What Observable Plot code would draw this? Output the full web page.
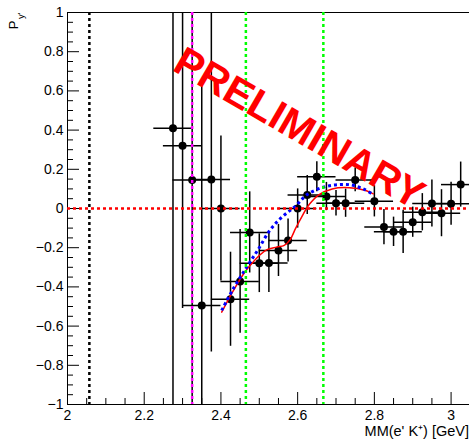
<!DOCTYPE html>
<html><head><meta charset="utf-8">
<script src="https://cdn.jsdelivr.net/npm/d3@7"></script>
<script src="https://cdn.jsdelivr.net/npm/@observablehq/plot@0.6"></script>
<style>
html,body{margin:0;padding:0;background:#fff;}
#chart{width:469px;height:439px;overflow:hidden;}
</style></head><body><div id="chart"></div>
<script>
// ---- data ----
const massBins = [2.275, 2.300, 2.325, 2.350, 2.375, 2.400, 2.425, 2.450, 2.475, 2.500, 2.525, 2.550, 2.575, 2.600, 2.625, 2.650, 2.675, 2.700, 2.725, 2.750, 2.800, 2.825, 2.850, 2.875, 2.900, 2.925, 2.950, 2.975, 3.000, 3.025];
const pyValues = [0.41, 0.32, 0.146, -0.495, 0.148, 0.0, -0.463, -0.372, -0.122, -0.279, -0.278, -0.214, -0.163, 0.0, 0.069, 0.162, 0.061, 0.027, 0.027, 0.146, 0.037, -0.095, -0.119, -0.119, -0.070, -0.019, 0.025, -0.024, 0.024, 0.122];
const pyErrors = [1.5, 0.83, 1.5, 1.13, 0.88, 0.37, 0.24, 0.265, 0.207, 0.15, 0.15, 0.133, 0.11, 0.10, 0.10, 0.077, 0.072, 0.065, 0.072, 0.06, 0.08, 0.09, 0.075, 0.11, 0.077, 0.095, 0.12, 0.12, 0.11, 0.115];
const massErrors = [0.05, 0.05, 0.05, 0.05, 0.05, 0.05, 0.05, 0.05, 0.05, 0.05, 0.05, 0.05, 0.05, 0.05, 0.05, 0.05, 0.05, 0.05, 0.05, 0.05, 0.05, 0.05, 0.05, 0.05, 0.05, 0.05, 0.05, 0.05, 0.05, 0.05];

const redCurveX = [2.402, 2.432, 2.462, 2.480, 2.500, 2.520, 2.545, 2.565, 2.580, 2.595, 2.610, 2.630, 2.655, 2.690, 2.735, 2.775, 2.797];
const redCurveY = [-0.529, -0.420, -0.325, -0.282, -0.240, -0.210, -0.197, -0.188, -0.160, -0.100, -0.045, 0.020, 0.070, 0.100, 0.106, 0.093, 0.075];
const blueCurveX = [2.402, 2.432, 2.467, 2.498, 2.528, 2.559, 2.593, 2.624, 2.667, 2.702, 2.737, 2.771, 2.797];
const blueCurveY = [-0.520, -0.410, -0.300, -0.206, -0.110, -0.044, 0.010, 0.070, 0.109, 0.121, 0.121, 0.100, 0.071];

const blackLineX = [2.057];
const magentaLineX = [2.325];
const greenLinesX = [2.465, 2.667];
const zeroLineY = [0];

const xMajorTicks = [2.0, 2.2, 2.4, 2.6, 2.8, 3.0];
const xMinorTicks = [2.05, 2.1, 2.15, 2.25, 2.3, 2.35, 2.45, 2.5, 2.55, 2.65, 2.7, 2.75, 2.85, 2.9, 2.95];
const yMajorTicks = [-1, -0.8, -0.6, -0.4, -0.2, 0, 0.2, 0.4, 0.6, 0.8, 1];
const yMinorTicks = [-0.95, -0.9, -0.85, -0.75, -0.7, -0.65, -0.55, -0.5, -0.45, -0.35, -0.3, -0.25, -0.15, -0.1, -0.05, 0.05, 0.1, 0.15, 0.25, 0.3, 0.35, 0.45, 0.5, 0.55, 0.65, 0.7, 0.75, 0.85, 0.9, 0.95];

const xTitle = ["MM(e' K\u207A) [GeV]"];
const yTitleMain = ["P"];
const yTitleSub = ["y'"];
const stampText = ["PRELIMINARY"];
const stampX = [2.604];
const stampY = [0.408];

// ---- build tables ----
const points = massBins.map((m, i) => ({m, p: pyValues[i], e: pyErrors[i], me: massErrors[i]}));
const redCurve = redCurveX.map((x, i) => ({x, y: redCurveY[i]}));
const blueCurve = blueCurveX.map((x, i) => ({x, y: blueCurveY[i]}));
const stamp = stampText.map((t, i) => ({t, x: stampX[i], y: stampY[i]}));
const fmt = d3.format("~g");
const font = "'Liberation Sans', Arial, Helvetica, sans-serif";

const chart = Plot.plot({
  width: 469,
  height: 439,
  marginLeft: 67,
  marginRight: 0,
  marginTop: 12,
  marginBottom: 35,
  style: {fontFamily: font, fontSize: "14px", background: "#fff", color: "#000"},
  x: {domain: [2, 3.048], clamp: true, axis: null},
  y: {domain: [-1, 1], clamp: true, axis: null},
  marks: [
    // frame lines
    Plot.ruleX([2], {stroke: "#000", strokeWidth: 1}),
    Plot.ruleY([1], {stroke: "#000", strokeWidth: 1}),
    Plot.ruleY([-1], {stroke: "#000", strokeWidth: 1}),
    // axes
    Plot.axisY(yMajorTicks, {anchor: "left", tickSize: -12, tickPadding: 16, tickFormat: fmt, fontSize: 14, label: null}),
    Plot.axisY(yMinorTicks, {anchor: "left", tickSize: -6, fill: "none", label: null}),
    Plot.axisX(xMajorTicks, {anchor: "bottom", tickSize: -12, tickPadding: 17.5, tickFormat: fmt, fontSize: 14, label: null}),
    Plot.axisX(xMinorTicks, {anchor: "bottom", tickSize: -6, fill: "none", label: null}),
    // error bars
    Plot.ruleX(points, {x: "m", y1: d => d.p - d.e, y2: d => d.p + d.e, stroke: "#000", strokeWidth: 1.5}),
    Plot.ruleY(points, {y: "p", x1: d => d.m - d.me, x2: d => d.m + d.me, stroke: "#000", strokeWidth: 1.5}),
    Plot.dot(points, {x: "m", y: "p", r: 4, fill: "#000", stroke: null}),
    // model curves
    Plot.line(redCurve, {x: "x", y: "y", stroke: "#ff0000", strokeWidth: 1.5, curve: "catmull-rom"}),
    Plot.line(blueCurve, {x: "x", y: "y", stroke: "#0000ff", strokeWidth: 3, strokeDasharray: "3,3", strokeLinecap: "butt", curve: "catmull-rom"}),
    // reference lines
    Plot.ruleX(blackLineX, {stroke: "#000", strokeWidth: 2.5, strokeDasharray: "3,3", strokeLinecap: "butt"}),
    Plot.ruleX(magentaLineX, {stroke: "#ff00ff", strokeWidth: 2.5, strokeDasharray: "3,3", strokeLinecap: "butt"}),
    Plot.ruleX(greenLinesX, {stroke: "#00ff00", strokeWidth: 2.5, strokeDasharray: "3,3", strokeLinecap: "butt"}),
    Plot.ruleY(zeroLineY, {stroke: "#ff0000", strokeWidth: 2.5, strokeDasharray: "3,3", strokeLinecap: "butt"}),
    // titles
    Plot.text(yTitleMain, {text: d => d, frameAnchor: "top-left", dx: -49.5, dy: 8, rotate: -90, textAnchor: "end", lineAnchor: "bottom", fontSize: 13, fill: "#000"}),
    Plot.text(yTitleSub, {text: d => d, frameAnchor: "top-left", dx: -43.5, dy: 0, rotate: -90, textAnchor: "end", lineAnchor: "bottom", fontSize: 9.5, fill: "#000"}),
    Plot.text(xTitle, {text: d => d, frameAnchor: "bottom-right", dx: -0.5, dy: 31.5, textAnchor: "end", lineAnchor: "bottom", fontSize: 14.5, fill: "#000"}),
    // stamp
    Plot.text(stamp, {x: "x", y: "y", text: "t", rotate: 30, fontSize: 41, fontWeight: "bold", fill: "#ff0000", textAnchor: "middle", lineAnchor: "middle"})
  ]
});
document.getElementById("chart").appendChild(chart);
</script>
</body></html>
